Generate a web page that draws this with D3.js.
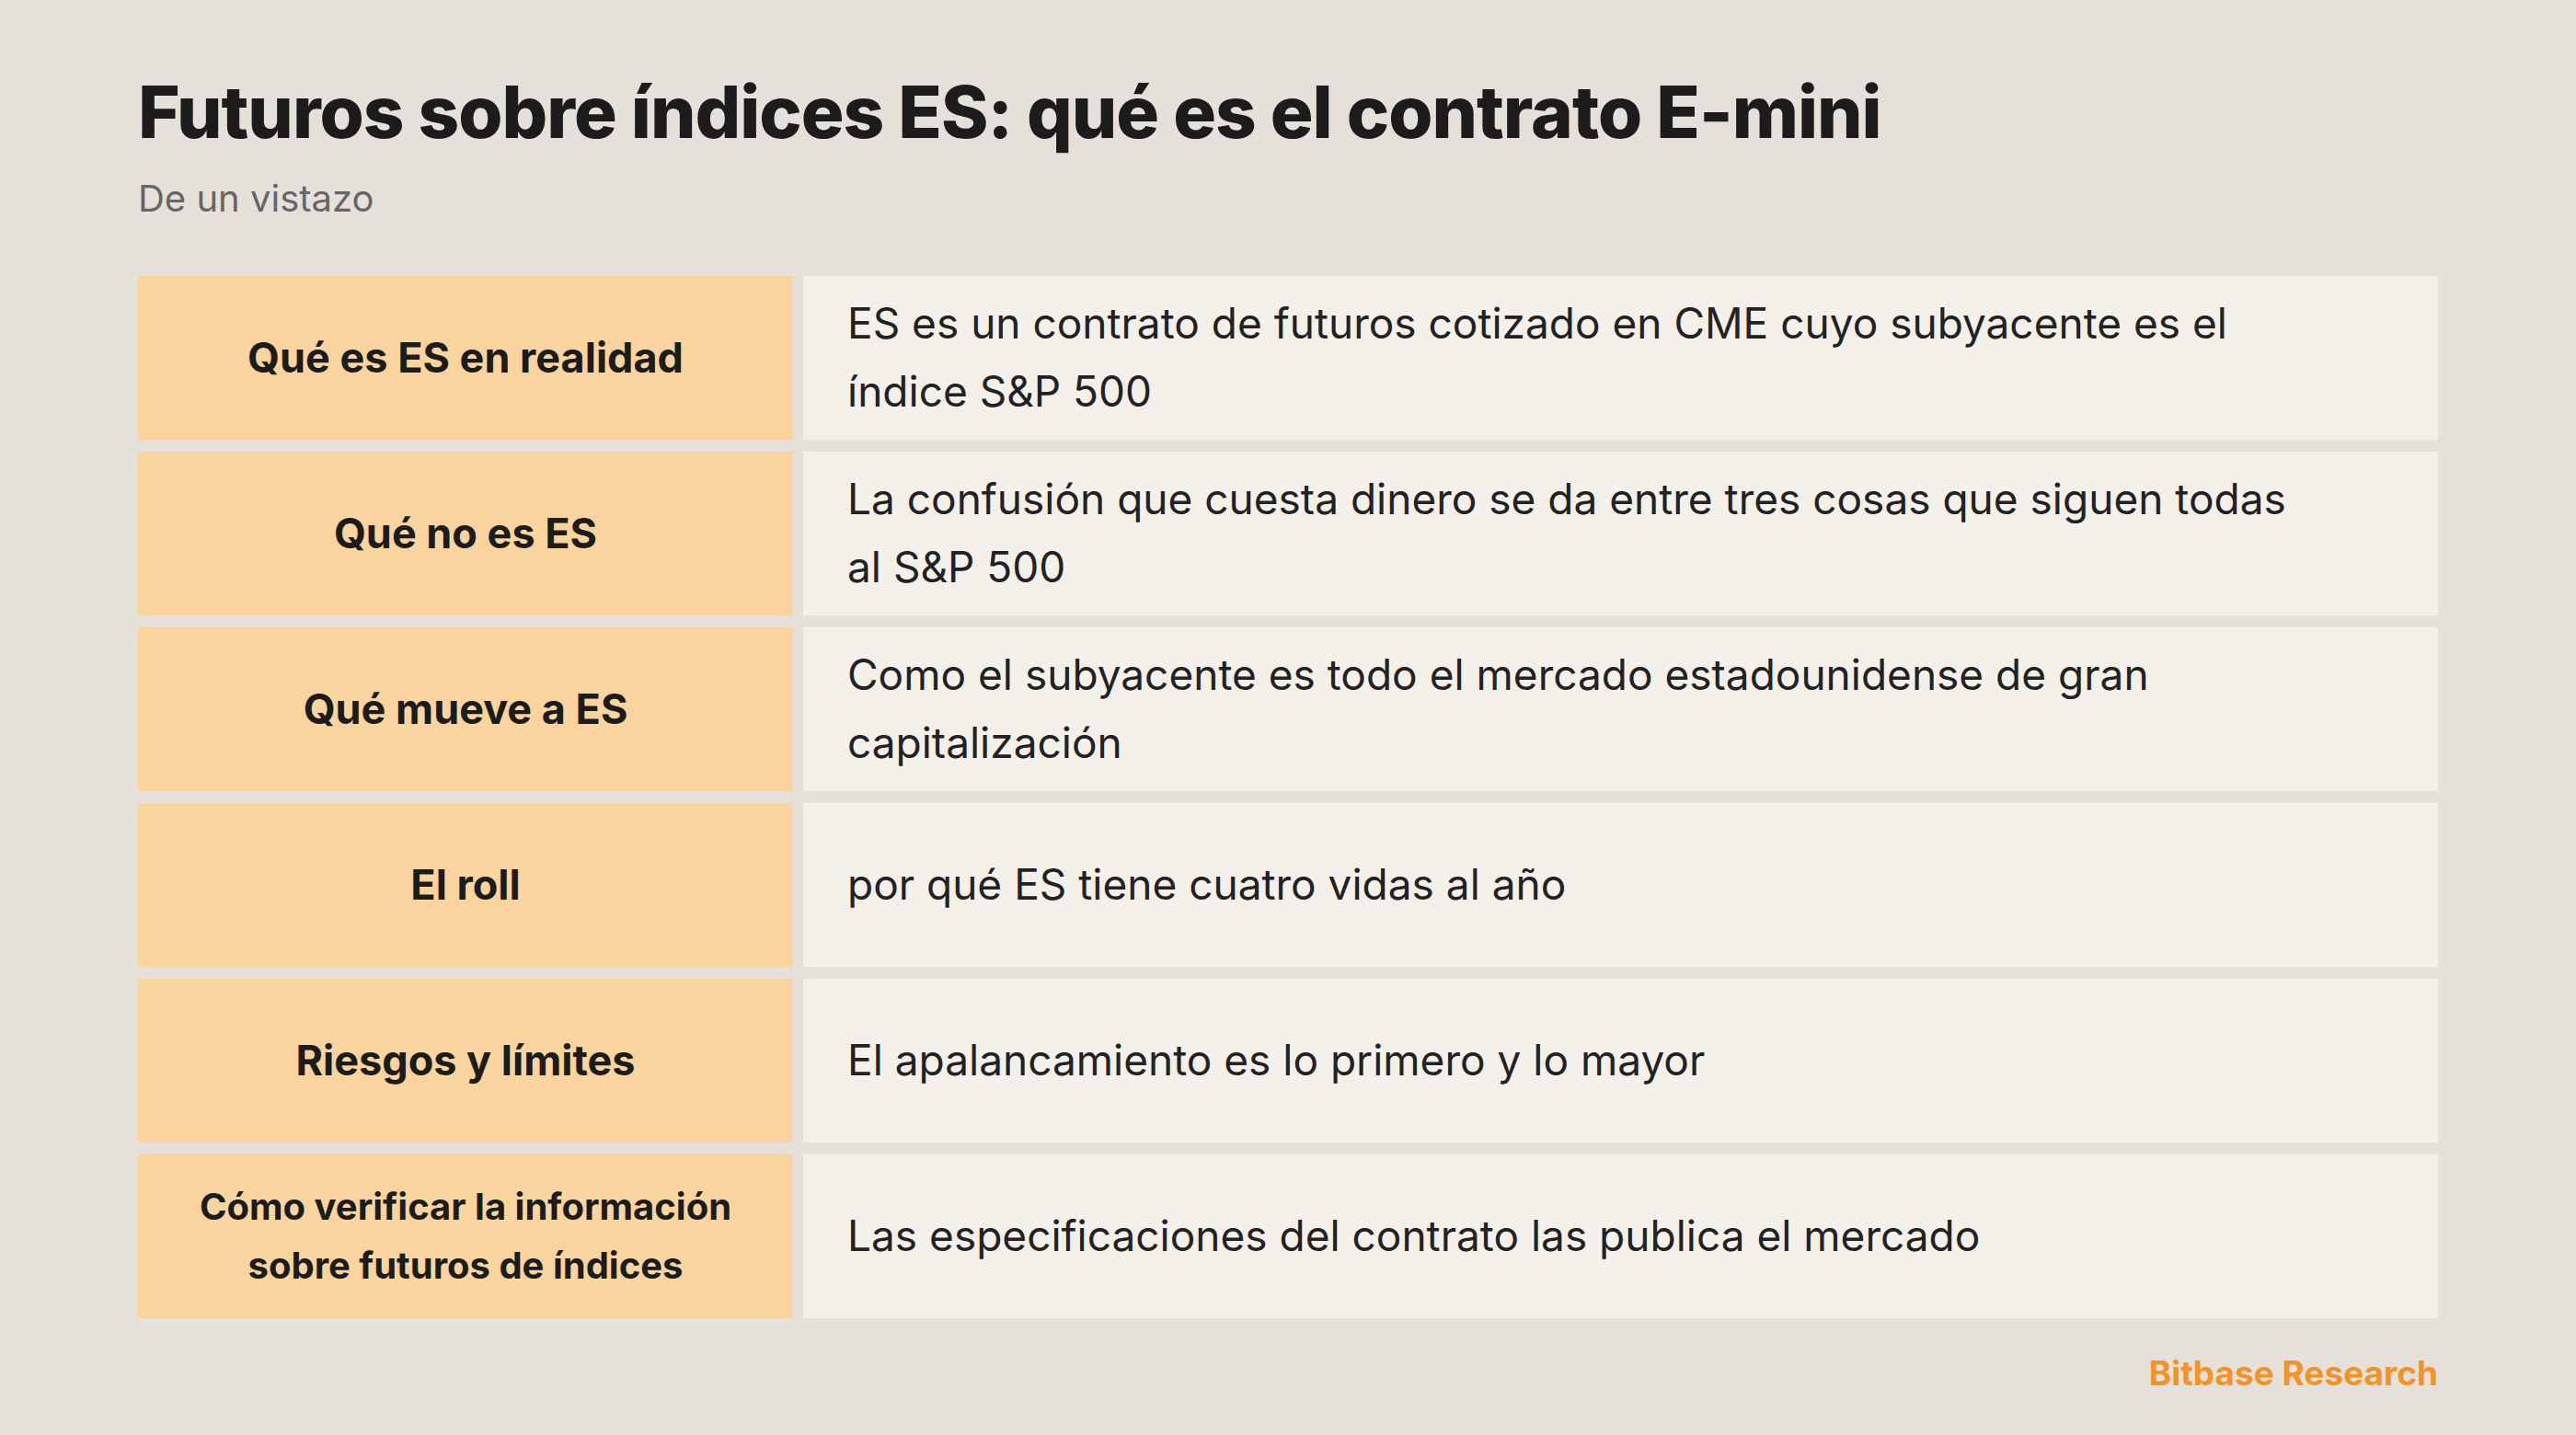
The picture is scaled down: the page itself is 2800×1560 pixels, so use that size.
<!DOCTYPE html>
<html><head><meta charset="utf-8">
<script src="https://cdn.jsdelivr.net/npm/d3@7"></script>
<style>body{margin:0;background:#E5E0DA}</style></head>
<body><svg id="c" width="2800" height="1560"></svg>
<script>
const title = "Futuros sobre índices ES: qué es el contrato E-mini";
const subtitle = "De un vistazo";
const labels = [["Qué es ES en realidad"],["Qué no es ES"],["Qué mueve a ES"],["El roll"],["Riesgos y límites"],["Cómo verificar la información","sobre futuros de índices"]];
const values = [
 ["ES es un contrato de futuros cotizado en CME cuyo subyacente es el","índice S&P 500"],
 ["La confusión que cuesta dinero se da entre tres cosas que siguen todas","al S&P 500"],
 ["Como el subyacente es todo el mercado estadounidense de gran","capitalización"],
 ["por qué ES tiene cuatro vidas al año"],
 ["El apalancamiento es lo primero y lo mayor"],
 ["Las especificaciones del contrato las publica el mercado"]];
const source = "Bitbase Research";

const svg = d3.select("#c");
const F = "Inter, 'Open Sans', sans-serif";
svg.append("rect").attr("width",2800).attr("height",1560).attr("fill","#E5E0DA");
svg.append("text").attr("x",150).attr("y",150).attr("font-family",F).attr("font-weight",800)
  .attr("font-size",78).attr("fill","#1c1c1c").attr("letter-spacing",-1).text(title);
svg.append("text").attr("x",150).attr("y",230).attr("font-family",F)
  .attr("font-size",40).attr("fill","#666").text(subtitle);

const y = d3.scaleBand().domain(d3.range(labels.length)).range([300,1433]).paddingInner(0.066);
const xL = [150,862], xV = [873,2650];
const g = svg.selectAll("g.row").data(labels).join("g").attr("transform",(d,i)=>`translate(0,${y(i)})`);
g.append("rect").attr("x",xL[0]).attr("width",xL[1]-xL[0]).attr("height",y.bandwidth()).attr("fill","#F9D49E");
g.append("rect").attr("x",xV[0]).attr("width",xV[1]-xV[0]).attr("height",y.bandwidth()).attr("fill","#F3F0EA");
const h = y.bandwidth();
g.each(function(d,i){
  const s=d3.select(this);
  const fs = d.length>1?40:45, lh = d.length>1?64:73;
  d.forEach((t,k)=>s.append("text").attr("x",(xL[0]+xL[1])/2).attr("y",h/2+(k-(d.length-1)/2)*lh)
    .attr("dy","0.35em").attr("text-anchor","middle").attr("font-family",F).attr("font-weight",700)
    .attr("font-size",fs).attr("fill","#1c1c1c").text(t));
  const v=values[i];
  v.forEach((t,k)=>s.append("text").attr("x",921).attr("y",h/2+(k-(v.length-1)/2)*74)
    .attr("dy","0.35em").attr("font-family",F).attr("font-size",46).attr("fill","#222").text(t));
});
svg.append("text").attr("x",2650).attr("y",1506).attr("text-anchor","end").attr("font-family",F)
  .attr("font-weight",700).attr("font-size",37).attr("fill","#F39325").text(source);
</script></body></html>
